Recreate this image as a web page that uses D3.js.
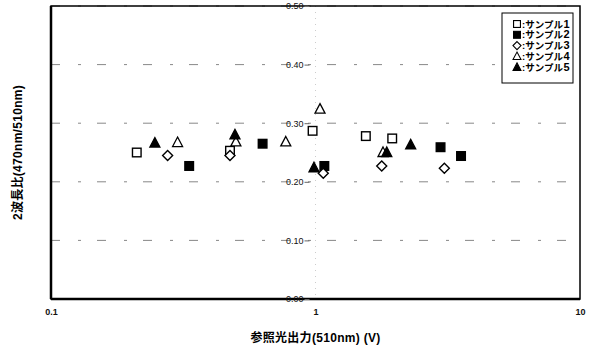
<!DOCTYPE html>
<html><head><meta charset="utf-8">
<script src="https://cdn.jsdelivr.net/npm/d3@7"></script>
<style>
body{margin:0;background:#fff;}
text{font-family:"Liberation Sans","Noto Sans CJK JP",sans-serif;}
</style></head>
<body>
<svg id="c" width="591" height="349"></svg>
<script>
const seriesNames = ["サンプル1","サンプル2","サンプル3","サンプル4","サンプル5"];
const s1 = [[0.211,0.250],[0.475,0.253],[0.975,0.287],[1.55,0.278],[1.95,0.274]];
const s2 = [[0.333,0.227],[0.631,0.265],[1.08,0.227],[2.97,0.259],[3.55,0.244]];
const s3 = [[0.276,0.245],[0.475,0.245],[1.07,0.2145],[1.78,0.227],[3.07,0.223]];
const s4 = [[0.301,0.267],[0.500,0.268],[0.772,0.268],[1.04,0.324],[1.80,0.250]];
const s5 = [[0.247,0.266],[0.496,0.280],[0.987,0.224],[1.86,0.250],[2.29,0.263]];
const xTicks = [0.1,1,10];
const yTicks = [0,0.1,0.2,0.3,0.4,0.5];
const xTitle = "参照光出力(510nm) (V)";
const yTitle = "2波長比(470nm/510nm)";

const series = [s1,s2,s3,s4,s5];
const shapes = ["sq","fsq","dia","tri","ftri"];

const svg = d3.select("#c");
const L=51,R=580,T=6,B=299;
const x = d3.scaleLog().domain([0.1,10]).range([L,R]);
const y = d3.scaleLinear().domain([0,0.5]).range([B,T]);

// gridlines
svg.append("g").selectAll("line").data(yTicks.filter(d=>d>0)).join("line")
  .attr("x1",L).attr("x2",R).attr("y1",d=>y(d)).attr("y2",d=>y(d))
  .attr("stroke","#888").attr("stroke-width",1).attr("stroke-dasharray","9,18,3,16");
// faint vertical at x=1
svg.append("line").attr("x1",x(1)).attr("x2",x(1)).attr("y1",T).attr("y2",B)
  .attr("stroke","#ccc").attr("stroke-dasharray","1,5");

// frame
svg.append("rect").attr("x",L).attr("y",T).attr("width",R-L).attr("height",B-T)
  .attr("fill","none").attr("stroke","#000").attr("stroke-width",1.5);
svg.append("line").attr("x1",L).attr("x2",L).attr("y1",T).attr("y2",B).attr("stroke","#000").attr("stroke-width",2.5);
svg.append("line").attr("x1",L).attr("x2",R).attr("y1",B).attr("y2",B).attr("stroke","#000").attr("stroke-width",2.5);

// y axis at x=1
const yAxis = d3.axisLeft(y).tickValues(yTicks).tickFormat(d3.format(".2f")).tickSize(5).tickPadding(1);
const gy = svg.append("g").attr("transform",`translate(${x(1)-6},0)`).call(yAxis);
gy.select(".domain").remove();
gy.selectAll("line").attr("stroke","#666");
gy.selectAll("text").attr("font-size",9).attr("fill","#111").style("font-family","Liberation Sans");

// x axis
const xAxis = d3.axisBottom(x).tickValues(xTicks).tickFormat(d=>String(d)).tickSize(0).tickPadding(10);
const gx = svg.append("g").attr("transform",`translate(0,${B})`).call(xAxis);
gx.select(".domain").remove();
gx.selectAll("text").attr("font-size",9).attr("font-weight","bold").attr("fill","#111");

// titles
svg.append("text").attr("x",x(1)).attr("y",342).attr("text-anchor","middle")
  .attr("font-size",12).attr("font-weight","bold").attr("letter-spacing",0.3).text(xTitle);
svg.append("text").attr("transform",`translate(22,${(T+B)/2}) rotate(-90)`).attr("text-anchor","middle")
  .attr("font-size",12).attr("font-weight","bold").attr("letter-spacing",0.3).text(yTitle);

function drawShape(g, shape, cx, cy){
  const s=4.3;
  if(shape==="sq"||shape==="fsq"){
    g.append("rect").attr("x",cx-s).attr("y",cy-s).attr("width",2*s).attr("height",2*s)
      .attr("fill",shape==="fsq"?"#000":"#fff").attr("stroke","#000").attr("stroke-width",1.4);
  } else if(shape==="dia"){
    g.append("path").attr("d",`M${cx},${cy-5}L${cx+5},${cy}L${cx},${cy+5}L${cx-5},${cy}Z`)
      .attr("fill","#fff").attr("stroke","#000").attr("stroke-width",1.4);
  } else {
    g.append("path").attr("d",`M${cx},${cy-5.5}L${cx+5},${cy+4}L${cx-5},${cy+4}Z`)
      .attr("fill",shape==="ftri"?"#000":"#fff").attr("stroke","#000").attr("stroke-width",1.3);
  }
}

const gp = svg.append("g");
series.forEach((s,i)=>{
  s.forEach(d=>drawShape(gp, shapes[i], x(d[0]), y(d[1])));
});

// legend
const lg = svg.append("g");
lg.append("rect").attr("x",502).attr("y",13).attr("width",71).attr("height",70)
  .attr("fill","#fff").attr("stroke","#000").attr("stroke-width",1);
seriesNames.forEach((n,i)=>{
  const cy = 24 + i*10.8;
  const sub = lg.append("g").attr("transform",`translate(517,${cy}) scale(0.8) translate(-517,${-cy})`);
  drawShape(sub, shapes[i], 517, cy);
  const t = lg.append("text").attr("x",522).attr("y",cy+3.5).attr("font-size",9.5).attr("font-weight","bold");
  const m = n.match(/^(\D*)(\d*)$/);
  t.append("tspan").text(":"+m[1]);
  t.append("tspan").style("font-family","Liberation Sans").attr("font-size",11).attr("dx",0.5).text(m[2]);
});
</script>
</body></html>
